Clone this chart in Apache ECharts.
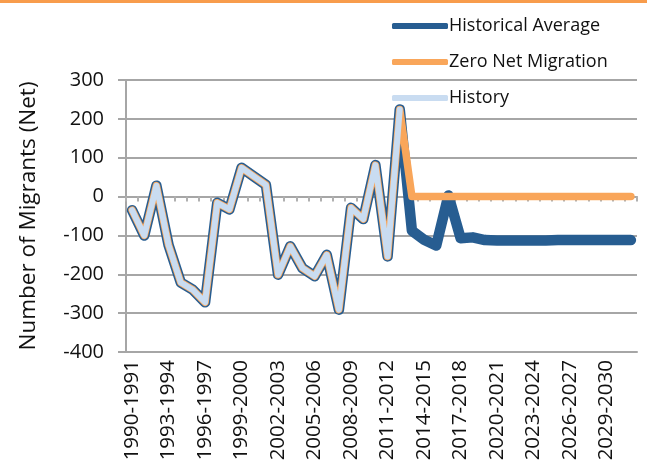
<!DOCTYPE html>
<html>
<head>
<meta charset="utf-8">
<script src="https://cdn.jsdelivr.net/npm/echarts@6/dist/echarts.min.js"></script>
<style>
  html, body { margin: 0; padding: 0; background: #fff; }
  #chart { width: 647px; height: 465px; }
</style>
</head>
<body>
<div id="chart"></div>
<script>
const categories = [
    '1990-1991','1991-1992','1992-1993','1993-1994','1994-1995','1995-1996',
    '1996-1997','1997-1998','1998-1999','1999-2000','2000-2001','2001-2002',
    '2002-2003','2003-2004','2004-2005','2005-2006','2006-2007','2007-2008',
    '2008-2009','2009-2010','2010-2011','2011-2012','2012-2013','2013-2014',
    '2014-2015','2015-2016','2016-2017','2017-2018','2018-2019','2019-2020',
    '2020-2021','2021-2022','2022-2023','2023-2024','2024-2025','2025-2026',
    '2026-2027','2027-2028','2028-2029','2029-2030','2030-2031','2031-2032'
];

// observed history, 1990-1991 .. 2012-2013
const history = [-35, -100, 28, -125, -221, -240, -272, -16, -33, 74, 52, 30,
    -201, -128, -184, -205, -150, -291, -29, -58, 81, -154, 224];

// projections from 2013-2014 on
const historicalAvgProj = [-88, -111, -126, 3, -107, -105, -112, -113, -113,
    -113, -113, -113, -112, -112, -112, -112, -112, -112, -112];
const zeroNetProj = [0, 0, 0, 0, 0, 0, 0, 0, 0, 0, 0, 0, 0, 0, 0, 0, 0, 0, 0];

const yTicks = [-400, -300, -200, -100, 0, 100, 200, 300];

const historicalAvg = history.concat(historicalAvgProj);
const zeroNet = history.concat(zeroNetProj);

const font = '"Open Sans", "Noto Sans", sans-serif';
const gridGray = '#a6a6a6';

const dom = document.getElementById('chart');
const myChart = echarts.init(dom);

function lineSeries(name, data, color, width) {
    return {
        name: name,
        type: 'line',
        data: data,
        symbol: 'none',
        animation: false,
        color: color,
        lineStyle: { color: color, width: width, cap: 'round', join: 'round' }
    };
}

const option = {
    backgroundColor: '#fff',
    graphic: [{
        type: 'rect',
        left: 0, top: 0,
        shape: { width: 647, height: 3 },
        style: { fill: '#f89c4c' },
        z: 10
    }],
    legend: {
        orient: 'vertical',
        left: 387,
        top: 9,
        itemWidth: 56,
        itemHeight: 6,
        itemGap: 12,
        icon: 'roundRect',
        textStyle: { fontFamily: font, fontSize: 18, color: '#111', lineHeight: 24, padding: [0, 0, 0, -4] },
        data: ['Historical Average', 'Zero Net Migration', 'History']
    },
    grid: { left: 126, right: 10, top: 80, bottom: 113, containLabel: false },
    xAxis: [{
        type: 'category',
        data: categories,
        boundaryGap: true,
        position: 'bottom',
        axisLine: { show: true, onZero: false, lineStyle: { color: gridGray, width: 2 } },
        axisTick: { show: false },
        axisLabel: {
            interval: 2,
            rotate: 90,
            margin: 8,
            fontFamily: font,
            fontSize: 20.5,
            color: '#111'
        },
        splitLine: { show: false }
    }, {
        type: 'category',
        data: categories,
        boundaryGap: true,
        position: 'bottom',
        axisLine: { show: true, onZero: true, lineStyle: { color: gridGray, width: 2 } },
        axisTick: { show: true, length: 5, interval: 0, lineStyle: { color: '#b0b0b0', width: 2 } },
        axisLabel: { show: false },
        splitLine: { show: false }
    }],
    yAxis: {
        type: 'value',
        min: yTicks[0],
        max: yTicks[yTicks.length - 1],
        interval: 100,
        name: 'Number of Migrants (Net)',
        nameLocation: 'middle',
        nameRotate: 90,
        nameGap: 86,
        nameTextStyle: { fontFamily: font, fontSize: 22.5, color: '#111' },
        axisLine: { show: true, lineStyle: { color: gridGray, width: 2 } },
        axisTick: { show: true, length: 8, lineStyle: { color: gridGray, width: 2 } },
        axisLabel: { margin: 22, fontFamily: font, fontSize: 20, color: '#111' },
        splitLine: { show: true, lineStyle: { color: gridGray, width: 2 } }
    },
    series: [
        lineSeries('Historical Average', historicalAvg, '#275d91', 10.5),
        lineSeries('Zero Net Migration', zeroNet, '#f9a65a', 7.5),
        lineSeries('History', history, '#c9dcf1', 6)
    ]
};

myChart.setOption(option, true);
</script>
</body>
</html>
